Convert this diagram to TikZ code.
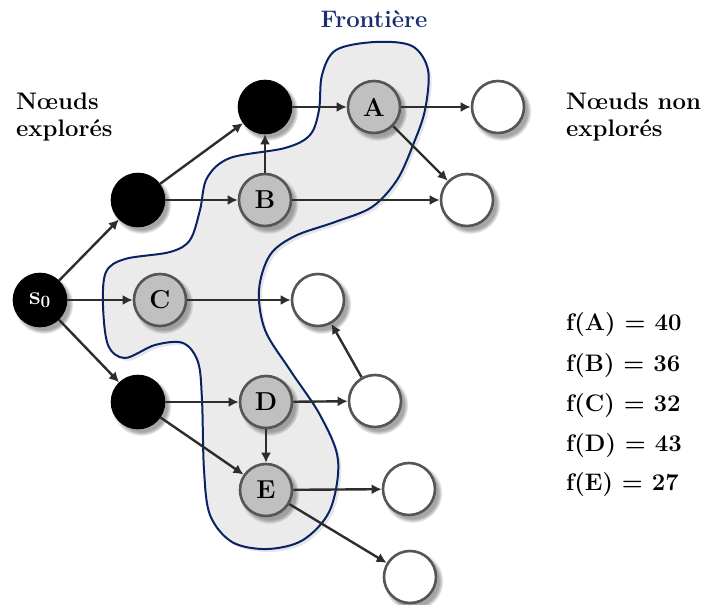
\documentclass[tikz,border=0pt]{standalone}
\usetikzlibrary{arrows.meta,shadows}
\definecolor{blobfill}{RGB}{235,235,235}
\definecolor{blobline}{RGB}{8,35,100}
\definecolor{frontxt}{RGB}{25,45,110}
\definecolor{nodeline}{RGB}{85,85,85}
\definecolor{frontfill}{RGB}{192,192,192}
\definecolor{arrowcol}{RGB}{45,45,45}
\newcommand{\nodefont}{\fontsize{26}{28}\selectfont\bfseries}
\newcommand{\labelfont}{\fontsize{24}{27}\selectfont\bfseries}
\tikzset{
  circbase/.style={circle,minimum size=52bp,inner sep=0pt,line width=2.6bp,
    circular drop shadow={opacity=0.7,shadow scale=1.15,shadow xshift=3bp,shadow yshift=-3.5bp}},
  explored/.style={circbase,fill=black,draw=black,text=white},
  frontnode/.style={circbase,fill=frontfill,draw=nodeline},
  unexplored/.style={circbase,fill=white,draw=nodeline},
  conn/.style={draw=arrowcol,line width=2.4bp,-{Latex[length=10bp,width=10bp]}},
  lbl/.style={font=\labelfont,inner sep=0pt}
}
\begin{document}
\begin{tikzpicture}[x=1bp,y=-1bp]
\useasboundingbox (0,0) rectangle (705,605);
% frontier blob
\fill[blobfill,draw=blobline,line width=2bp,
  drop shadow={opacity=0.2,shadow xshift=3bp,shadow yshift=-3bp}]
  plot[smooth cycle,tension=0.55] coordinates {
  (322,75) (336,50) (375,42) (412,46) (428,70) (425,110) (413,145) (397,180)
  (372,207) (335,222) (295,236) (270,255) (259,290) (265,330) (290,370)
  (320,415) (338,460) (330,510) (303,540) (267,549) (232,542) (210,515)
  (204,470) (202,400) (198,362) (183,343) (155,345) (125,358) (108,345)
  (103,305) (106,272) (125,259) (170,252) (190,240) (200,210) (207,178)
  (230,158) (285,148) (310,135) (319,110)};
% nodes
\node[explored] (s0) at (40,300) {\nodefont s$_{\mathbf{0}}$};
\node[explored] (e1) at (138,200) {};
\node[explored] (e2) at (265,107) {};
\node[explored] (e3) at (138,402) {};
\node[frontnode] (A) at (374,107) {\nodefont A};
\node[frontnode] (B) at (265,200) {\nodefont B};
\node[frontnode] (C) at (160,300) {\nodefont C};
\node[frontnode] (D) at (266,402) {\nodefont D};
\node[frontnode] (E) at (266,490) {\nodefont E};
\node[unexplored] (u1) at (498,107) {};
\node[unexplored] (u2) at (467,200) {};
\node[unexplored] (u3) at (318,300) {};
\node[unexplored] (u4) at (375,401) {};
\node[unexplored] (u5) at (409,489) {};
\node[unexplored] (u6) at (410,577) {};
% connectors
\draw[conn] (s0) -- (e1);
\draw[conn] (s0) -- (C);
\draw[conn] (s0) -- (e3);
\draw[conn] (e1) -- (e2);
\draw[conn] (e1) -- (B);
\draw[conn] (B) -- (e2);
\draw[conn] (e2) -- (A);
\draw[conn] (A) -- (u1);
\draw[conn] (A) -- (u2);
\draw[conn] (B) -- (u2);
\draw[conn] (C) -- (u3);
\draw[conn] (u4) -- (u3);
\draw[conn] (e3) -- (D);
\draw[conn] (e3) -- (E);
\draw[conn] (D) -- (E);
\draw[conn] (D) -- (u4);
\draw[conn] (E) -- (u5);
\draw[conn] (E) -- (u6);
% labels
\node[lbl,text=frontxt,anchor=base] (front) at (374,28) {Frontière};
\node[lbl,anchor=north west,align=left] (lexp) at (16,93) {Nœuds\\explorés};
\node[lbl,anchor=north west,align=left] (lunexp) at (566,93) {Nœuds non\\explorés};
\node[lbl,anchor=base west] (fA) at (566,330) {f(A) = 40};
\node[lbl,anchor=base west] (fB) at (566,371) {f(B) = 36};
\node[lbl,anchor=base west] (fC) at (566,411) {f(C) = 32};
\node[lbl,anchor=base west] (fD) at (566,451) {f(D) = 43};
\node[lbl,anchor=base west] (fE) at (566,490) {f(E) = 27};
\end{tikzpicture}
\end{document}
